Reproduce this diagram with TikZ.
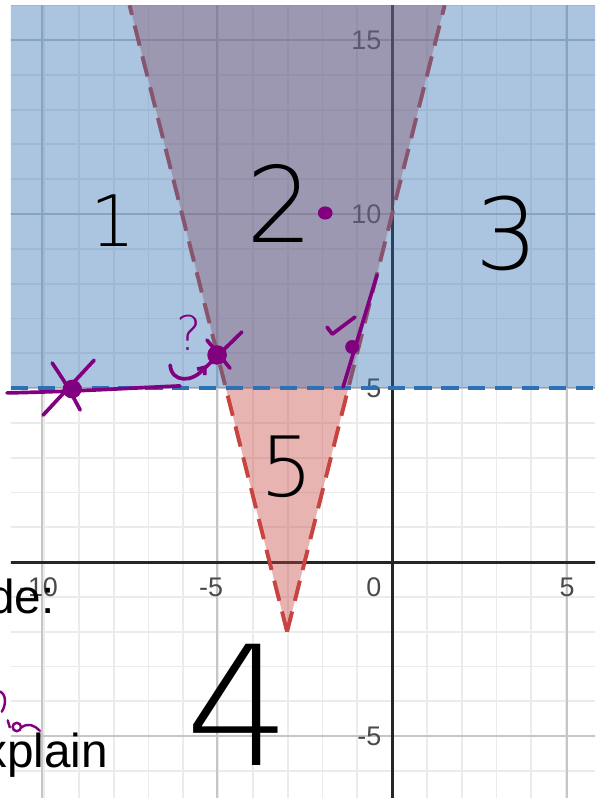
\documentclass[tikz,border=0pt]{standalone}
\usepackage{fontspec}
\setmainfont{Liberation Sans}
\newfontfamily\handfont{DejaVuSans-ExtraLight.ttf}
\usetikzlibrary{arrows.meta}
\definecolor{dblue}{HTML}{2D70B3}
\definecolor{dred}{HTML}{C74440}
\definecolor{ink}{HTML}{800080}
\definecolor{minorgrid}{HTML}{EBEBEB}
\definecolor{majorgrid}{HTML}{C6C6C6}
\definecolor{axislbl}{HTML}{4A4A4A}

\begin{document}
\begin{tikzpicture}[x=1.006cm,y=1cm,
  region/.style={opacity=0.4},
  bound/.style={line width=3.2pt,dash pattern=on 17pt off 9pt},
  tick/.style={font=\fontsize{22}{22}\selectfont,text=axislbl,inner sep=0pt},
  hand/.style={inner sep=0pt,font=\handfont\fontsize{#1}{#1}\selectfont},
  pen/.style={draw=ink,line width=3pt,line cap=round,line join=round},
  doc/.style={anchor=base east,inner sep=0pt,font=\fontsize{39}{39}\selectfont}
]
\useasboundingbox (-11.2,-6.78) rectangle (5.8,16.15);
\fill[white] (-11.2,-6.78) rectangle (5.8,16.15);

\begin{scope}
\clip (-10.89,-6.78) rectangle (5.8,15.98);
% grid and axes
\draw[minorgrid,line width=1.5pt] (-11,-7) grid (6,16);
\foreach \v in {-10,-5,5} \draw[majorgrid,line width=1.8pt] (\v,-7) -- (\v,16);
\foreach \v in {-5,5,10,15} \draw[majorgrid,line width=1.8pt] (-11,\v) -- (6,\v);
\draw[black!85,line width=2.4pt] (-11,0) -- (6,0);
\draw[black!85,line width=2.4pt] (0,-7) -- (0,16);

\node[tick,anchor=base east] (y15) at (-0.3,14.72) {15};
\node[tick,anchor=base east] (y10) at (-0.3,9.72) {10};
\node[tick,anchor=base east] (y5) at (-0.3,4.72) {5};
\node[tick,anchor=base east] (ym5) at (-0.3,-5.28) {-5};
\node[tick,anchor=base] (xm10) at (-10.1,-1.0) {-10};
\node[tick,anchor=base] (xm5) at (-5.17,-1.0) {-5};
\node[tick,anchor=base east] (x0) at (-0.3,-1.0) {0};
\node[tick,anchor=base] (x5) at (5,-1.0) {5};

% y > 4|x+3|-2
\fill[dred,region] (-3,-2) -- (-7.5,16) -- (1.5,16) -- cycle;
\draw[dred,bound] (-3,-2) -- (-7.5,16);
\draw[dred,bound] (-3,-2) -- (1.5,16);
% y > 5
\fill[dblue,region] (-11,5) rectangle (6,16);
\draw[dblue,bound,dash pattern=on 14pt off 8pt] (-10.89,5) -- (6,5);
\end{scope}

% region numbers
\node[hand=58] (r1) at (-7.97,9.8) {1};
\node[hand=86] (r2) at (-3.2,10.3) {2};
\node[hand=81] (r3) at (3.29,9.43) {3};
\node[hand=136] (r4) at (-4.4,-4.1) {4};
\node[hand=68] (r5) at (-3.0,2.73) {5};

% test points
\fill[ink] (-1.91,10.03) ellipse (0.21 and 0.19);

\draw[pen] (-11.0,4.86) .. controls (-9,4.9) and (-7.5,5.0) .. (-6.06,5.06);
\fill[ink] (-9.14,4.97) circle (0.27);
\draw[pen] (-9.71,5.72) .. controls (-9.3,5.1) .. (-8.91,4.37);
\draw[pen] (-8.51,5.8) -- (-9.97,4.22);

\fill[ink] (-5.0,5.95) circle (0.28);
\draw[pen] (-4.29,6.61) -- (-5.4,5.52);
\draw[pen] (-5.29,6.38) -- (-4.63,5.57);
\node[hand=39,text=ink] (qmark) at (-5.8,6.58) {?};
\draw[pen,-{Straight Barb[length=5pt,width=8pt]}] (-6.34,5.66) .. controls (-6.3,5.15) and (-5.7,5.15) .. (-5.3,5.66);

\draw[pen] (-0.43,8.25) -- (-1.4,5.03);
\fill[ink] (-1.14,6.18) circle (0.2);
\draw[pen] (-1.86,6.75) -- (-1.71,6.55) -- (-1.06,7.04);

\draw[ink,line width=2pt,line cap=round] (-11.2,-3.72) .. controls (-11.02,-3.8) and (-11.02,-4.1) .. (-11.15,-4.3);
\draw[ink,line width=2pt,line cap=round] (-10.98,-4.55) -- (-10.92,-4.75);
\draw[ink,line width=2pt] (-10.72,-4.74) circle (0.12);
\draw[ink,line width=2pt,line cap=round] (-10.6,-4.76) .. controls (-10.4,-4.6) and (-10.2,-4.7) .. (-10.06,-4.85);

% text behind the graph
\node[doc] (de) at (-9.63,-1.47) {de:};
\node[doc] (xpl) at (-8.11,-5.89) {xplain};
\end{tikzpicture}
\end{document}
